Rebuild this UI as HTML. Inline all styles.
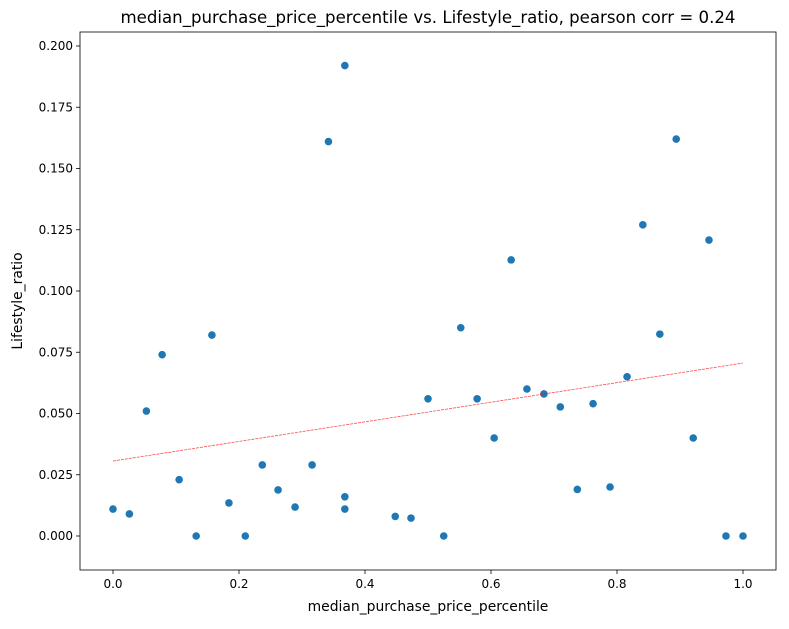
<!DOCTYPE html>
<html><head><meta charset="utf-8"><style>
body{margin:0;background:#fff;font-family:"Liberation Sans","DejaVu Sans",sans-serif}
</style></head><body>
<svg id="chart" width="789" height="624" xmlns="http://www.w3.org/2000/svg" font-family="DejaVu Sans, Liberation Sans, sans-serif"></svg>
<script>
const xVals=[0.0,0.026,0.053,0.078,0.105,0.132,0.157,0.184,0.21,0.237,0.262,0.289,0.316,0.342,0.368,0.368,0.368,0.448,0.473,0.5,0.525,0.552,0.578,0.605,0.632,0.657,0.684,0.71,0.737,0.762,0.789,0.816,0.841,0.868,0.894,0.921,0.946,0.973,1.0];
const yVals=[0.011,0.009,0.051,0.074,0.023,0,0.082,0.0135,0,0.029,0.0188,0.0118,0.029,0.161,0.192,0.016,0.011,0.008,0.0073,0.056,0,0.085,0.056,0.040,0.1127,0.060,0.058,0.0527,0.019,0.054,0.020,0.065,0.127,0.0824,0.162,0.040,0.1208,0,0];
const trendX=[0,1];
const trendY=[0.0306,0.0706];
const xTicks=[0.0,0.2,0.4,0.6,0.8,1.0];
const xTickLabels=["0.0","0.2","0.4","0.6","0.8","1.0"];
const yTicks=[0,0.025,0.05,0.075,0.1,0.125,0.15,0.175,0.2];
const yTickLabels=["0.000","0.025","0.050","0.075","0.100","0.125","0.150","0.175","0.200"];
const L=80,R=776,T=32,B=570;
const X=v=>113+v*630, Y=v=>536-v*2450;
const svg=document.getElementById('chart');const NS="http://www.w3.org/2000/svg";
function mk(t,a,p){const e=document.createElementNS(NS,t);for(const k in a)e.setAttribute(k,a[k]);(p||svg).appendChild(e);return e;}
const title=mk('text',{x:428,y:23,'text-anchor':'middle','font-size':16.6,fill:'#000'});title.textContent='median_purchase_price_percentile vs. Lifestyle_ratio, pearson corr = 0.24';


xTicks.forEach((t,i)=>{const x=X(t);mk('line',{x1:x,x2:x,y1:B,y2:B+4,stroke:'#000','stroke-width':0.8});
const tx=mk('text',{x:x,y:B+18,'text-anchor':'middle','font-size':12});tx.textContent=xTickLabels[i];

});
yTicks.forEach((t,i)=>{const y=Y(t);mk('line',{x1:L-4,x2:L,y1:y,y2:y,stroke:'#000','stroke-width':0.8});
const tx=mk('text',{x:L-7,y:y+4,'text-anchor':'end','font-size':12});tx.textContent=yTickLabels[i];

});
const xl=mk('text',{x:428,y:611,'text-anchor':'middle','font-size':13.9});xl.textContent='median_purchase_price_percentile';


const yl=mk('text',{x:22,y:301,'text-anchor':'middle','font-size':13.9,transform:'rotate(-90 22 301)'});yl.textContent='Lifestyle_ratio';


xVals.forEach((v,i)=>{const c=mk('circle',{cx:X(v),cy:Y(yVals[i]),r:3.8,fill:'#1f77b4'});

});
const tl=mk('line',{x1:X(trendX[0]),y1:Y(trendY[0]),x2:X(trendX[1]),y2:Y(trendY[1]),stroke:'#ff0000','stroke-width':0.8,'stroke-dasharray':'3,1',opacity:0.7});


const fr=mk('rect',{x:L,y:T,width:R-L,height:B-T,fill:'none',stroke:'#000','stroke-width':0.8});


</script>
</body></html>
